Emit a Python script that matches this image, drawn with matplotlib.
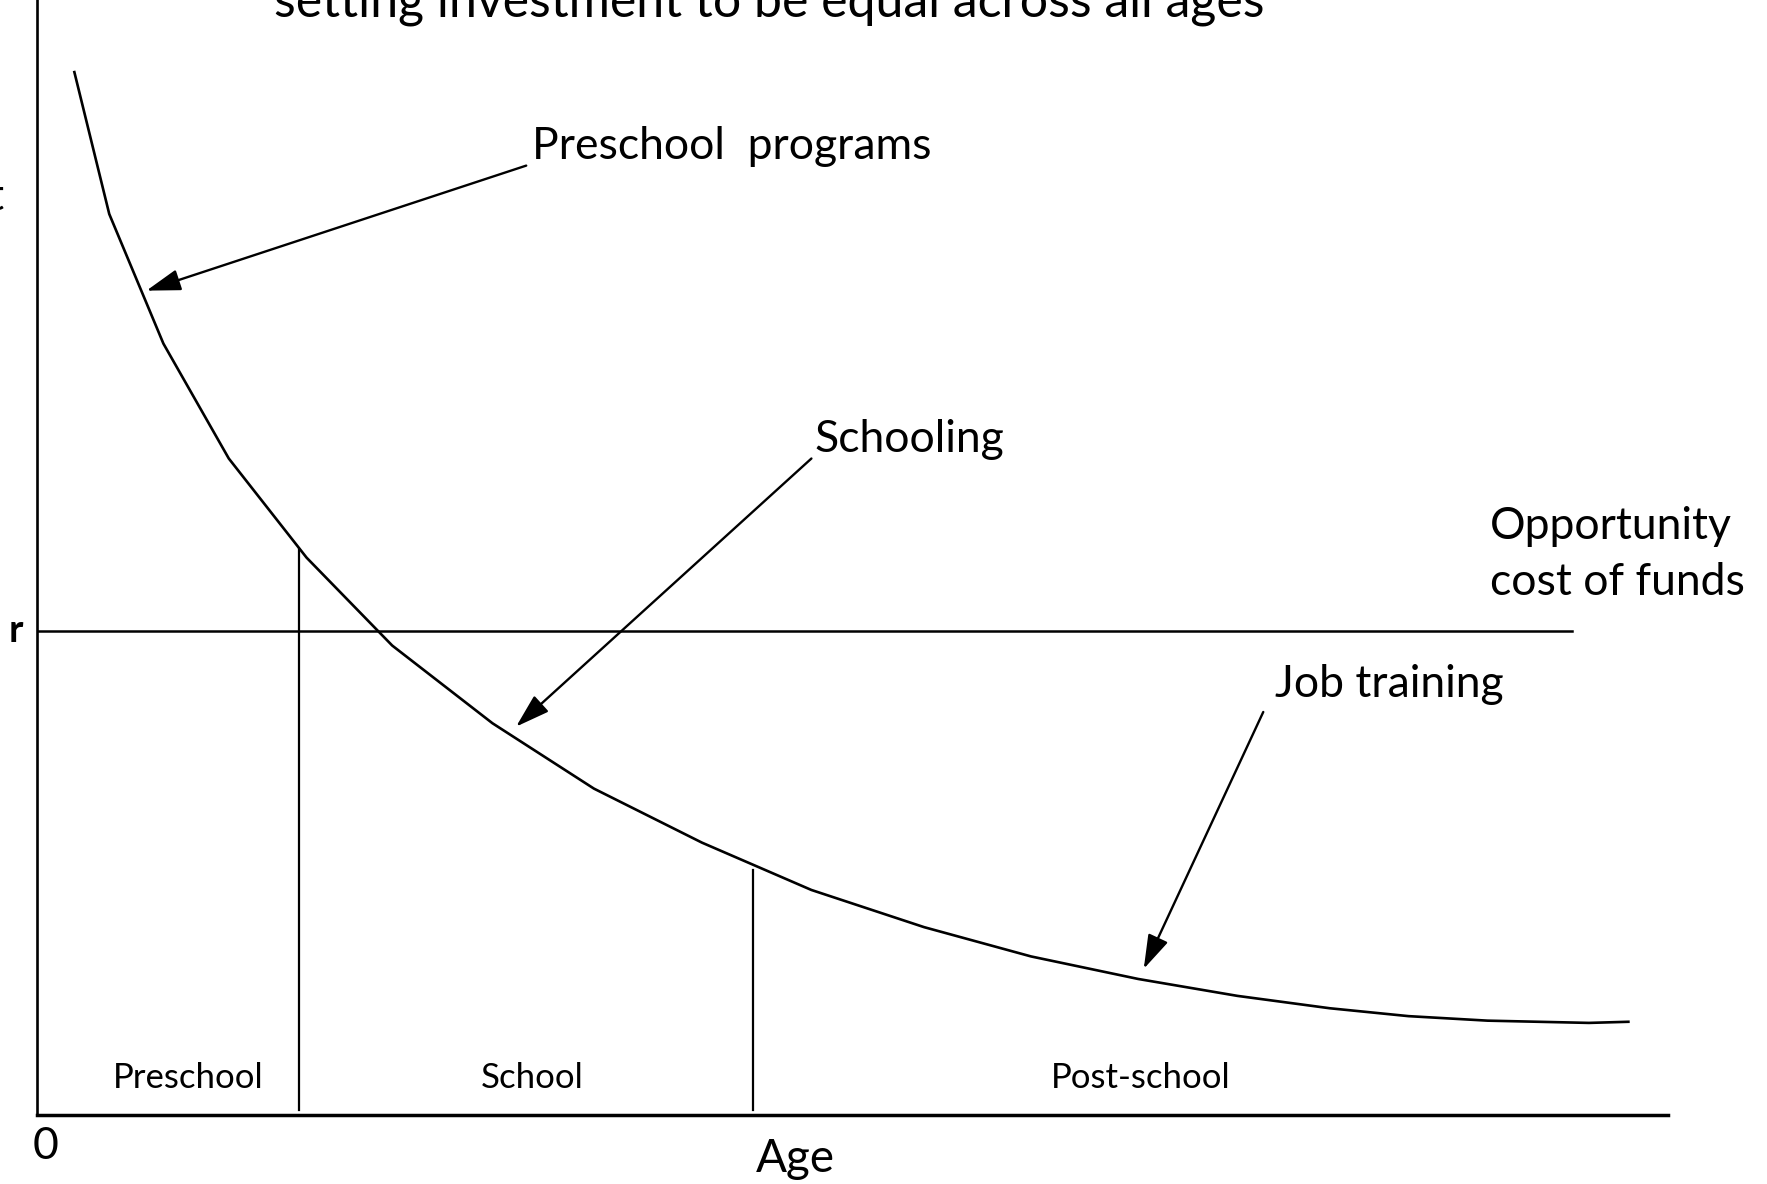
import matplotlib
matplotlib.use("Agg")
import matplotlib.pyplot as plt

plt.rcParams['font.family'] = ['Lato', 'DejaVu Sans']

# curve: rate of return by age (arbitrary units)
age_pts = [2.28, 4.42, 7.74, 11.75, 16.52, 21.77, 27.92, 34.14, 40.77, 47.48,
           54.39, 60.95, 67.52, 73.60, 79.27, 84.10, 88.94, 95.16, 97.58]
return_pts = [92.6, 80.0, 68.5, 58.3, 49.5, 41.7, 34.8, 29.0, 24.2, 20.0,
              16.7, 14.1, 12.1, 10.6, 9.5, 8.8, 8.4, 8.2, 8.3]

r_level = 43.0
r_end = 94.1
stage_bounds = [16.03, 43.88]
stage_tops = [50.3, 21.8]
stage_names = ["Preschool", "School", "Post-school"]
stage_label_x = [9.26, 30.34, 67.66]

# annotations: (label, text pos, arrow tail, arrow head)
notes = [
    ("Preschool  programs", (30.34, 86.0), (29.99, 84.3), (6.70, 73.2)),
    ("Schooling", (47.69, 60.0), (47.48, 58.3), (29.37, 34.5)),
    ("Job training", (75.88, 38.2), (75.19, 35.8), (67.86, 13.0)),
]

fig = plt.figure(figsize=(17.67, 11.84), dpi=100)
ax = fig.add_axes([33 / 1568, 61 / 1051, (1480 - 33) / 1568, 990 / 1051])
ax.set_xlim(0, 100)
ax.set_ylim(0, 99)
ax.axis('off')

# axes lines
ax.plot([0, 0], [0, 105], color='black', lw=1.9, clip_on=False)
ax.plot([0, 100], [0, 0], color='black', lw=2.5, clip_on=False)

ax.plot(age_pts, return_pts, color='black', lw=1.9)
ax.plot([0, r_end], [r_level, r_level], color='black', lw=1.8)

for xb, yt in zip(stage_bounds, stage_tops):
    ax.plot([xb, xb], [0.5, yt], color='black', lw=1.6)

for name, xs in zip(stage_names, stage_label_x):
    ax.text(xs, 3.3, name, ha='center', va='center', fontsize=25)

for label, tpos, tail, head in notes:
    ax.text(tpos[0], tpos[1], label, ha='left', va='center', fontsize=32)
    ax.annotate('', xy=head, xytext=tail,
                arrowprops=dict(arrowstyle='-|>,head_length=1.05,head_width=0.33',
                                mutation_scale=20, color='black', lw=1.7,
                                shrinkA=0, shrinkB=0))

ax.text(89.08, 49.8, "Opportunity\ncost of funds", ha='left', va='center',
        fontsize=32, linespacing=1.45)

ax.text(-1.3, r_level, "r", ha='center', va='center', fontsize=28,
        fontweight='bold', clip_on=False)
ax.text(0.5, -2.8, "0", ha='center', va='center', fontsize=32, clip_on=False)
ax.text(46.5, -3.9, "Age", ha='center', va='center', fontsize=33, clip_on=False)

# title and y label are cropped in the source figure
ax.text(44.9, 97.5, "setting investment to be equal across all ages",
        ha='center', va='baseline', fontsize=36, clip_on=False)
ax.text(-2.0, 81.5, "investment", ha='right', va='center', fontsize=32,
        clip_on=False)

fig.savefig("out.png", dpi=100)
